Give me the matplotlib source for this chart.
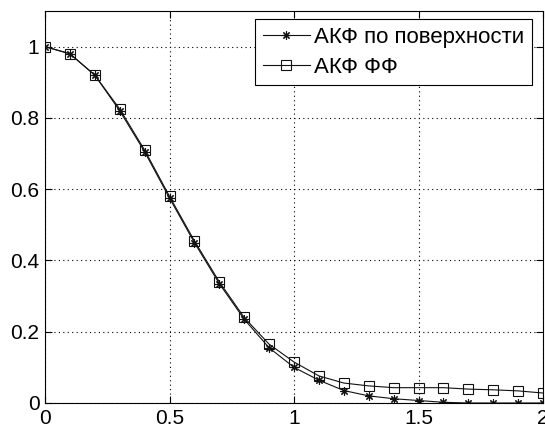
import numpy as np
import matplotlib
matplotlib.use('Agg')
import matplotlib.pyplot as plt

# lag values and the two autocorrelation curves
lag = [0.0, 0.1, 0.2, 0.3, 0.4, 0.5, 0.6, 0.7, 0.8, 0.9, 1.0,
       1.1, 1.2, 1.3, 1.4, 1.5, 1.6, 1.7, 1.8, 1.9, 2.0]
acf_surface = [1.0, 0.98, 0.92, 0.82, 0.705, 0.575, 0.45, 0.335, 0.235, 0.155, 0.10,
               0.064, 0.035, 0.02, 0.012, 0.007, 0.002, 0.0, 0.0, 0.0, 0.0]
acf_ff = [1.0, 0.98, 0.92, 0.825, 0.71, 0.58, 0.455, 0.34, 0.24, 0.165, 0.115,
          0.076, 0.056, 0.048, 0.043, 0.043, 0.043, 0.039, 0.037, 0.034, 0.028]
labels = ['АКФ по поверхности', 'АКФ ФФ']
xticks = [0, 0.5, 1, 1.5, 2]
xtick_labels = ['0', '0.5', '1', '1.5', '2']
yticks = [0, 0.2, 0.4, 0.6, 0.8, 1.0]
ytick_labels = ['0', '0.2', '0.4', '0.6', '0.8', '1']

plt.rcParams['font.family'] = ['Liberation Sans', 'DejaVu Sans']

fig = plt.figure(figsize=(5.45, 4.3), dpi=100)
# axes box: x 45..543 px, y 11..403 px
ax = fig.add_axes([45 / 545, 27 / 430, 498 / 545, 392 / 430])

ax.plot(lag, acf_surface, color='#111111', linewidth=0.8, marker=(8, 2, 0),
        markersize=6, markeredgewidth=0.8, label=labels[0])
ax.plot(lag, acf_ff, color='#111111', linewidth=0.8, marker='s',
        markersize=6.5, markerfacecolor='none', markeredgewidth=0.8, label=labels[1])

ax.set_xlim(0, 2)
ax.set_ylim(0, 1.1)
ax.set_xticks(xticks)
ax.set_xticklabels(xtick_labels)
ax.set_yticks(yticks)
ax.set_yticklabels(ytick_labels)
ax.tick_params(direction='in', top=True, right=True, length=5, width=0.8,
               labelsize=15, pad=4)
ax.grid(True, color='black', linestyle=(0, (1, 3)), linewidth=0.8)
for s in ax.spines.values():
    s.set_linewidth(0.8)

leg = ax.legend(loc='upper right', bbox_to_anchor=(487 / 498, 384 / 392), fontsize=16,
                fancybox=False, framealpha=1, edgecolor='black',
                handlelength=2.1, handletextpad=0.2, borderpad=0.35,
                labelspacing=0.4, borderaxespad=0)
leg.get_frame().set_linewidth(0.8)

fig.savefig('out.png', dpi=100)
